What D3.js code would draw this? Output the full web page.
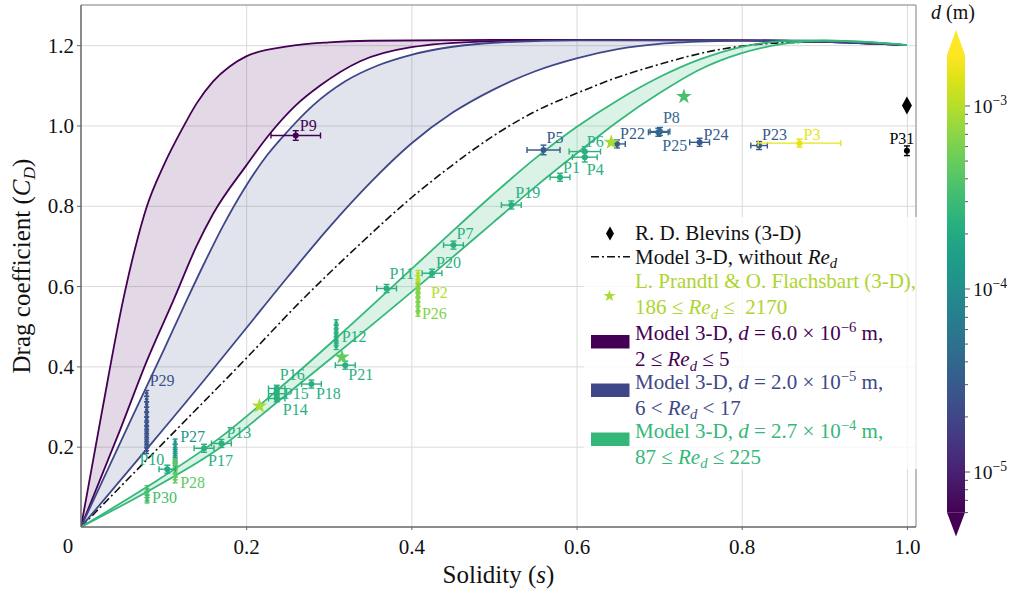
<!DOCTYPE html>
<html><head><meta charset="utf-8">
<script src="https://cdn.jsdelivr.net/npm/d3@7"></script>
<style>
body{margin:0;background:#fff}
svg{font-family:"Liberation Serif","Times New Roman",serif}
text{white-space:pre}
</style>
</head><body>
<svg id="c" width="1018" height="591" font-family="Liberation Serif, Times New Roman, serif"></svg>
<script>
// ---------------- DATA ----------------
const xTicks = [0.2, 0.4, 0.6, 0.8, 1.0];
const xTickLabels = ["0.2", "0.4", "0.6", "0.8", "1.0"];
const yTicks = [0.2, 0.4, 0.6, 0.8, 1.0, 1.2];
const yTickLabels = ["0.2", "0.4", "0.6", "0.8", "1.0", "1.2"];

// model curves [solidity, C_D]
const purpleUpper = [[0,0],[0.025,0.283],[0.051,0.565],[0.065,0.69],[0.08,0.8],[0.1,0.9],[0.124,0.997],[0.14,1.055],[0.16,1.11],[0.18,1.147],[0.2,1.172],[0.25,1.197],[0.3,1.207],[0.35,1.211],[0.5,1.213],[0.8,1.212],[0.9,1.208],[1.0,1.2]];
const purpleLower = [[0,0],[0.047,0.24],[0.08,0.415],[0.112,0.565],[0.14,0.7],[0.16,0.78],[0.2,0.9],[0.227,0.975],[0.26,1.05],[0.29,1.1],[0.338,1.16],[0.4,1.195],[0.483,1.209],[0.6,1.213],[0.8,1.212],[0.9,1.208],[1.0,1.2]];
const blueUpper = [[0,0],[0.06,0.265],[0.1,0.44],[0.128,0.565],[0.15,0.66],[0.172,0.75],[0.2,0.85],[0.225,0.925],[0.25,0.985],[0.281,1.05],[0.32,1.11],[0.36,1.15],[0.4,1.176],[0.45,1.196],[0.5,1.206],[0.6,1.212],[0.8,1.212],[0.9,1.208],[1.0,1.2]];
const blueLower = [[0,0],[0.08,0.195],[0.15,0.368],[0.2,0.495],[0.25,0.622],[0.3,0.745],[0.35,0.857],[0.4,0.955],[0.45,1.032],[0.5,1.09],[0.55,1.135],[0.6,1.167],[0.65,1.19],[0.7,1.203],[0.77,1.21],[0.85,1.212],[0.95,1.207],[1.0,1.2]];
const noReLine = [[0,0],[0.1,0.21],[0.2,0.42],[0.265,0.56],[0.338,0.705],[0.4,0.82],[0.447,0.897],[0.5,0.975],[0.55,1.035],[0.6,1.08],[0.65,1.12],[0.7,1.152],[0.77,1.188],[0.85,1.206],[0.92,1.208],[1.0,1.2]];
const greenUpper = [[0,0],[0.08,0.1],[0.17,0.225],[0.24,0.345],[0.31,0.472],[0.4,0.642],[0.45,0.737],[0.5,0.83],[0.55,0.918],[0.6,0.996],[0.65,1.063],[0.7,1.12],[0.75,1.165],[0.8,1.196],[0.85,1.21],[0.9,1.212],[0.95,1.208],[1.0,1.2]];
const greenLower = [[0,0],[0.08,0.088],[0.17,0.2],[0.24,0.315],[0.31,0.432],[0.4,0.585],[0.45,0.672],[0.5,0.76],[0.55,0.847],[0.6,0.93],[0.65,1.01],[0.7,1.08],[0.75,1.14],[0.8,1.18],[0.85,1.203],[0.9,1.211],[0.95,1.208],[1.0,1.2]];

// experimental points (with error bars); d in metres (null = no colour)
const pointNames = ["P1","P4","P5","P6","P7","P8","P9","P10","P11","P13","P14","P15","P16","P17","P18","P19","P20","P21","P22","P23","P24","P25","P3","P31"];
const pointS     = [0.58,0.61,0.56,0.61,0.451,0.701,0.26,0.1045,0.37,0.17,0.237,0.237,0.237,0.149,0.279,0.521,0.425,0.32,0.649,0.821,0.749,0.699,0.87,1.0];
const pointCD    = [0.871,0.921,0.939,0.935,0.702,0.985,0.975,0.144,0.594,0.208,0.32,0.332,0.345,0.196,0.356,0.802,0.632,0.403,0.954,0.95,0.958,0.983,0.956,0.937];
const pointSErr  = [0.012,0.015,0.02,0.019,0.012,0.012,0.03,0.01,0.012,0.012,0.01,0.01,0.01,0.012,0.012,0.012,0.012,0.012,0.01,0.01,0.012,0.012,0.05,0];
const pointCDErr = [0.01,0.012,0.012,0.012,0.01,0.01,0.012,0.01,0.01,0.01,0.008,0.008,0.008,0.01,0.01,0.01,0.01,0.01,0.01,0.01,0.01,0.01,0.01,0.012];
const pointD     = [2.3e-4,2.3e-4,3.05e-5,2.3e-4,2.3e-4,4.1e-5,6e-6,1.96e-4,2.3e-4,2.3e-4,2.3e-4,2.3e-4,2.3e-4,2.3e-4,2.3e-4,2.3e-4,2.3e-4,2.3e-4,3.4e-5,2.9e-5,3.0e-5,4.0e-5,1.5e-3,null];

// columns of repeated measurements
const columnNames = ["P29","P27","P28","P30","P12","P2","P26"];
const columnS = [0.0795,0.114,0.114,0.08,0.309,0.408,0.408];
const columnCD = [
  [0.333,0.318,0.305,0.292,0.28,0.268,0.257,0.246,0.236,0.226,0.216,0.206,0.197,0.19],
  [0.212,0.2,0.19,0.18,0.17,0.16,0.152],
  [0.163,0.152,0.142,0.133,0.125,0.117],
  [0.096,0.088,0.08,0.072,0.067],
  [0.509,0.498,0.488,0.478,0.468,0.458,0.449],
  [0.632,0.62,0.61,0.6,0.59,0.58],
  [0.6,0.588,0.577,0.566,0.555,0.543,0.532]
];
const columnD = [2.6e-5,1.3e-4,4.7e-4,3.5e-4,2.3e-4,1.0e-3,6.2e-4];

// L. Prandtl & O. Flachsbart (stars)
const prandtlS = [0.216,0.316,0.642,0.73];
const prandtlCD = [0.301,0.423,0.958,1.072];
const prandtlD = [9e-4,4.7e-4,9e-4,3.5e-4];
// R. D. Blevins
const blevinsS = [1.0];
const blevinsCD = [1.05];

// colour bar
const cbDomain = [6e-6, 1.9e-3];
const cbTicks = [1e-5, 1e-4, 1e-3];
const cbTickExp = ["−5", "−4", "−3"];

// ---------------- LAYOUT ----------------
const fontSerif = '"Liberation Serif","Times New Roman",serif';
const labelLayout = {
  P1:[3,-10,"start"],P4:[2,13,"start"],P5:[3,-12,"start"],P6:[2,-10,"start"],P7:[3,-11,"start"],
  P8:[3,-14,"start"],P9:[4,-10,"start"],P10:[-3,-9,"end"],P11:[3,-15,"start"],P13:[5,-11,"start"],
  P14:[6,11,"start"],P15:[7,0,"start"],P16:[3,-14,"start"],P17:[4,12,"start"],P18:[4.5,10,"start"],
  P19:[4,-12,"start"],P20:[4,-11,"start"],P21:[3,10,"start"],P22:[3,-10,"start"],P23:[3,-11,"start"],
  P24:[4,-8,"start"],P25:[4,13.4,"start"],P3:[4,-8,"start"],P31:[-5,-12.5,"middle"]
};
const columnLabelLayout = {
  P29:[3,-13,"top"],P27:[5,-5,"top"],P28:[5,3,"bottom"],P30:[5,-2,"bottom"],
  P12:[5.5,14,"top"],P2:[13,19.5,"top"],P26:[4,0,"bottom"]
};

const svg = d3.select("#c");
const x = d3.scaleLinear().domain([0, 1.011]).range([81, 916]);
const y = d3.scaleLinear().domain([0, 1.3]).range([527, 5]);
const cb = d3.scaleLog().domain([1e-5, 1e-3]).range([472, 106]);
const tNorm = d3.scaleLog().domain(cbDomain).range([0, 1]).clamp(true);
const colorOf = d => d == null ? "#000" : d3.interpolateViridis(tNorm(d));

const cPurple = "#440154", cBlue = "#3f4788", cGreen = "#35b779", cPrandtl = "#aed430";

svg.append("defs").append("clipPath").attr("id","plotclip")
  .append("rect").attr("x",81).attr("y",5).attr("width",835).attr("height",522);

// grid
const grid = svg.append("g");
grid.append("g").attr("transform","translate(0,527)")
  .call(d3.axisBottom(x).tickValues(xTicks).tickSize(-522).tickFormat(""))
  .call(g=>{g.select(".domain").remove();g.selectAll("line").attr("stroke","#dadada").attr("stroke-width",1);});
grid.append("g").attr("transform","translate(81,0)")
  .call(d3.axisLeft(y).tickValues(yTicks).tickSize(-835).tickFormat(""))
  .call(g=>{g.select(".domain").remove();g.selectAll("line").attr("stroke","#dadada").attr("stroke-width",1);});

const plot = svg.append("g").attr("clip-path","url(#plotclip)");
const line = d3.line().x(d=>x(d[0])).y(d=>y(d[1])).curve(d3.curveMonotoneX);
function bandPath(up, lo){
  const a = line(up), b = line(lo.slice().reverse());
  return a + "L" + b.slice(1) + "Z";
}
const bands = [
  {up:purpleUpper, lo:purpleLower, c:cPurple, op:0.15},
  {up:blueUpper, lo:blueLower, c:cBlue, op:0.15},
  {up:greenUpper, lo:greenLower, c:cGreen, op:0.18}
];
bands.forEach(b=>{
  plot.append("path").attr("d",bandPath(b.up,b.lo)).attr("fill",b.c).attr("fill-opacity",b.op).attr("stroke","none");
});
plot.append("path").attr("d",line(noReLine)).attr("fill","none").attr("stroke","#111")
  .attr("stroke-width",1.6).attr("stroke-dasharray","8,3,2,3");
bands.forEach(b=>{
  [b.up,b.lo].forEach(c=>plot.append("path").attr("d",line(c)).attr("fill","none").attr("stroke",b.c).attr("stroke-width",1.8));
});

const pts = svg.append("g");
function errPoint(s, cd, se, ce, col, r, cap){
  const g = pts.append("g").attr("stroke",col).attr("stroke-width",1.4);
  const px = x(s), py = y(cd);
  if (se > 0){
    g.append("line").attr("x1",x(s-se)).attr("x2",x(s+se)).attr("y1",py).attr("y2",py);
    [s-se,s+se].forEach(v=>g.append("line").attr("x1",x(v)).attr("x2",x(v)).attr("y1",py-cap).attr("y2",py+cap));
  }
  if (ce > 0){
    g.append("line").attr("x1",px).attr("x2",px).attr("y1",y(cd-ce)).attr("y2",y(cd+ce));
    [cd-ce,cd+ce].forEach(v=>g.append("line").attr("x1",px-cap).attr("x2",px+cap).attr("y1",y(v)).attr("y2",y(v)));
  }
  pts.append("circle").attr("cx",px).attr("cy",py).attr("r",r).attr("fill",col);
}
function pLabel(txt, px, py, dx, dy, anchor, col){
  svg.append("text").attr("x",px+dx).attr("y",py+dy+5.3).attr("text-anchor",anchor)
    .attr("font-size",16).attr("font-family",fontSerif).attr("fill",col).text(txt);
}

columnNames.forEach((n,i)=>{
  const col = colorOf(columnD[i]);
  columnCD[i].forEach(v=>errPoint(columnS[i], v, 0, 0.007, col, 1.8, 2.5));
});
pointNames.forEach((n,i)=>{
  errPoint(pointS[i], pointCD[i], pointSErr[i], pointCDErr[i], colorOf(pointD[i]), 3, 3);
});

const star = d3.symbol().type(d3.symbolStar).size(75);
prandtlS.forEach((s,i)=>{
  svg.append("path").attr("d",star()).attr("transform",`translate(${x(s)},${y(prandtlCD[i])})`)
    .attr("fill",colorOf(prandtlD[i]));
});
const diamond = (w,h)=>`M0,${-h}L${w},0L0,${h}L${-w},0Z`;
blevinsS.forEach((s,i)=>{
  svg.append("path").attr("d",diamond(5,9)).attr("transform",`translate(${x(s)},${y(blevinsCD[i])})`).attr("fill","#000");
});

pointNames.forEach((n,i)=>{
  const L = labelLayout[n];
  pLabel(n, x(pointS[i]), y(pointCD[i]), L[0], L[1], L[2], colorOf(pointD[i]));
});
columnNames.forEach((n,i)=>{
  const L = columnLabelLayout[n];
  const ref = L[2]==="top" ? d3.max(columnCD[i]) : d3.min(columnCD[i]);
  pLabel(n, x(columnS[i]), y(ref), L[0], L[1], "start", colorOf(columnD[i]));
});

// frame and axes
const fr = svg.append("g").attr("fill","none");
fr.append("line").attr("x1",81).attr("x2",916).attr("y1",5).attr("y2",5).attr("stroke","#a8a8a8").attr("stroke-width",1.5);
fr.append("line").attr("x1",916).attr("x2",916).attr("y1",5).attr("y2",527).attr("stroke","#a8a8a8").attr("stroke-width",1.5);
fr.append("line").attr("x1",81).attr("x2",81).attr("y1",5).attr("y2",527).attr("stroke","#666").attr("stroke-width",1.5);
fr.append("line").attr("x1",81).attr("x2",916).attr("y1",527).attr("y2",527).attr("stroke","#666").attr("stroke-width",1.5);

const ax = svg.append("g").attr("transform","translate(81,0)")
  .call(d3.axisLeft(y).tickValues(yTicks).tickSize(4).tickPadding(3).tickFormat((d,i)=>yTickLabels[i]));
ax.attr("font-family",fontSerif);
ax.select(".domain").remove();
ax.selectAll("line").attr("stroke","#666");
ax.selectAll("text").attr("font-size",21).attr("font-family",fontSerif).attr("fill","#111").attr("dy","0.33em");
const bx = svg.append("g").attr("transform","translate(0,527)")
  .call(d3.axisBottom(x).tickValues(xTicks).tickSize(3).tickPadding(9).tickFormat((d,i)=>xTickLabels[i]));
bx.attr("font-family",fontSerif);
bx.select(".domain").remove();
bx.selectAll("line").attr("stroke","#666");
bx.selectAll("text").attr("font-size",21).attr("font-family",fontSerif).attr("fill","#111");
svg.append("text").attr("x",x(0)-13).attr("y",553).attr("text-anchor","middle").attr("font-size",21)
  .attr("font-family",fontSerif).attr("fill","#111").text("0");

function rich(parent, xp, yp, parts, fs, color, anchor){
  const t = parent.append("text").attr("x",xp).attr("y",yp).attr("font-size",fs).attr("fill",color)
    .attr("font-family",fontSerif).attr("text-anchor",anchor||"start");
  let shift = 0;
  parts.forEach(p=>{
    const ts = t.append("tspan").text(p.t);
    if (p.i) ts.attr("font-style","italic");
    const target = p.sup ? -0.4*fs : (p.sub ? 0.2*fs : 0);
    if (target !== shift){ ts.attr("dy", target - shift); shift = target; }
    if (p.sup || p.sub) ts.attr("font-size", fs*0.7);
  });
  return t;
}

rich(svg, 498.5, 583, [{t:"Solidity ("},{t:"s",i:1},{t:")"}], 25, "#111", "middle");
const yt = svg.append("g").attr("transform","translate(30,266) rotate(-90)");
rich(yt, 0, 0, [{t:"Drag coefficient ("},{t:"C",i:1},{t:"D",i:1,sub:1},{t:")"}], 25, "#111", "middle");

// legend
const leg = svg.append("g");
leg.append("rect").attr("x",584).attr("y",217).attr("width",335).attr("height",252).attr("fill","#fff").attr("opacity",0.8);
const legendLines = [
  {parts:[{t:"R. D. Blevins (3-D)"}], c:"#111"},
  {parts:[{t:"Model 3-D, without "},{t:"Re",i:1},{t:"d",i:1,sub:1}], c:"#111"},
  {parts:[{t:"L. Prandtl & O. Flachsbart (3-D),"}], c:cPrandtl},
  {parts:[{t:"186 ≤ "},{t:"Re",i:1},{t:"d",i:1,sub:1},{t:" ≤  2170"}], c:cPrandtl},
  {parts:[{t:"Model 3-D, "},{t:"d",i:1},{t:" = 6.0 × 10"},{t:"−6",sup:1},{t:" m,"}], c:cPurple},
  {parts:[{t:"2 ≤ "},{t:"Re",i:1},{t:"d",i:1,sub:1},{t:" ≤ 5"}], c:cPurple},
  {parts:[{t:"Model 3-D, "},{t:"d",i:1},{t:" = 2.0 × 10"},{t:"−5",sup:1},{t:" m,"}], c:cBlue},
  {parts:[{t:"6 < "},{t:"Re",i:1},{t:"d",i:1,sub:1},{t:" < 17"}], c:cBlue},
  {parts:[{t:"Model 3-D, "},{t:"d",i:1},{t:" = 2.7 × 10"},{t:"−4",sup:1},{t:" m,"}], c:cGreen},
  {parts:[{t:"87 ≤ "},{t:"Re",i:1},{t:"d",i:1,sub:1},{t:" ≤ 225"}], c:cGreen}
];
const legY = [233.3,256.7,281,307.3,333.3,359.3,382.3,407.7,431,456.7];
legendLines.forEach((L,i)=>rich(leg, 635, legY[i]+7, L.parts, 21, L.c));
leg.append("path").attr("d",diamond(4,7)).attr("transform","translate(610,233.5)").attr("fill","#000");
leg.append("line").attr("x1",591).attr("x2",630).attr("y1",256.7).attr("y2",256.7).attr("stroke","#111")
  .attr("stroke-width",1.6).attr("stroke-dasharray","8,3,2,3");
leg.append("path").attr("d",d3.symbol().type(d3.symbolStar).size(45)()).attr("transform","translate(609.5,296)").attr("fill",colorOf(9e-4));
[[cPurple,335],[cBlue,383.5],[cGreen,432.5]].forEach(([c,yy])=>{
  leg.append("rect").attr("x",591).attr("y",yy).attr("width",38.5).attr("height",13.5).attr("fill",c);
});

// colour bar
const cbx = 947, cbw = 18;
const yTop = cb(cbDomain[1]), yBot = cb(cbDomain[0]);
const grad = svg.select("defs").append("linearGradient").attr("id","vgrad").attr("x1",0).attr("x2",0).attr("y1",1).attr("y2",0);
d3.range(0,1.0001,0.05).forEach(t=>grad.append("stop").attr("offset",t).attr("stop-color",d3.interpolateViridis(t)));
svg.append("rect").attr("x",cbx).attr("y",yTop).attr("width",cbw).attr("height",yBot-yTop).attr("fill","url(#vgrad)");
svg.append("path").attr("d",`M${cbx},${yTop}L${cbx+cbw/2},${yTop-25}L${cbx+cbw},${yTop}Z`).attr("fill",d3.interpolateViridis(1));
svg.append("path").attr("d",`M${cbx},${yBot}L${cbx+cbw/2},${yBot+24}L${cbx+cbw},${yBot}Z`).attr("fill",d3.interpolateViridis(0));
const minor = [];
[-6,-5,-4,-3].forEach(e=>{for(let m=1;m<10;m++){const v=m*Math.pow(10,e); if(v>=cbDomain[0]&&v<=cbDomain[1]) minor.push(v);}});
minor.forEach(v=>{
  const major = cbTicks.some(t=>Math.abs(t-v)/t<1e-6);
  svg.append("line").attr("x1",cbx+cbw).attr("x2",cbx+cbw+(major?5:3)).attr("y1",cb(v)).attr("y2",cb(v)).attr("stroke","#555").attr("stroke-width",1);
});
cbTicks.forEach((v,i)=>{
  rich(svg, 973, cb(v)+6.5, [{t:"10"},{t:cbTickExp[i],sup:1}], 19.5, "#111");
});
rich(svg, 953, 19, [{t:"d",i:1},{t:" (m)"}], 20, "#111", "middle");
</script>
</body></html>
